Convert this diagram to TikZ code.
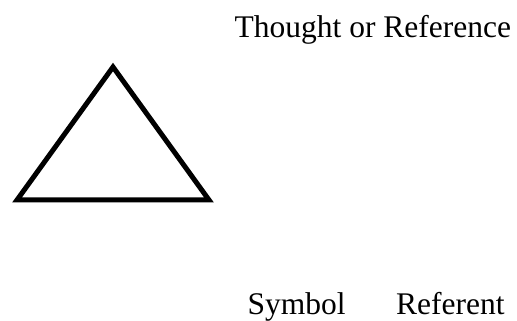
\documentclass[tikz,border=0pt]{standalone}
\usepackage{fontspec}
\setmainfont{Liberation Serif}
\begin{document}
\begin{tikzpicture}[x=1pt,y=1pt,
  lbl/.style={anchor=base west,inner sep=0pt,font=\fontsize{31.5}{36}\selectfont},
  tri/.style={line width=5pt,line join=miter}]
\useasboundingbox (0,0) rectangle (517,321);
\coordinate (apex) at (113,254);
\coordinate (bl) at (17,121);
\coordinate (br) at (209,121);
\draw[tri] (apex) -- (bl) -- (br) -- cycle;
\node[lbl] (thought) at (234.5,283.5) {Thought or Reference};
\node[lbl] (symbol) at (247.5,6) {Symbol};
\node[lbl] (referent) at (396,6) {Referent};
\end{tikzpicture}
\end{document}
